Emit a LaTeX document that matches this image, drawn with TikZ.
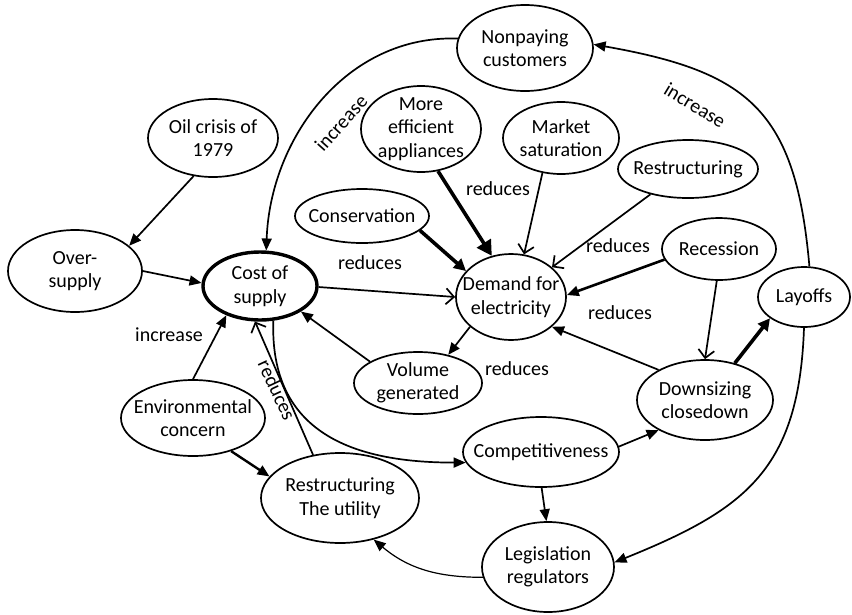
\documentclass[tikz,border=0pt]{standalone}
\usepackage{fontspec}
\setmainfont{Carlito}
\usetikzlibrary{arrows.meta,shapes.geometric}

\begin{document}
\begin{tikzpicture}[
  x=1pt, y=-1pt,
  every node/.style={font=\fontsize{20}{23.5}\selectfont},
  bub/.style={draw, ellipse, line width=1.7pt, align=center, inner xsep=-30pt, inner ysep=-20pt},
  lnk/.style={line width=1.7pt, -{Triangle[length=12pt,width=10pt]}},
  lnkopen/.style={line width=1.7pt, -{Straight Barb[length=8pt,width=16pt]}},
  lnkbold/.style={line width=3.6pt, -{Triangle[length=12pt,width=12pt]}},
  lbl/.style={inner sep=0pt}
]
  \useasboundingbox (0,0) rectangle (852,614);

  % --- Knoten ---
  \node[bub, minimum width=136pt, minimum height=86pt] (nonpay) at (525,48) {Nonpaying\\customers};
  \node[bub, minimum width=130pt, minimum height=78pt] (oil) at (213,138) {Oil crisis of\\1979};
  \node[bub, minimum width=120pt, minimum height=86pt] (eff) at (421,129) {More\\efficient\\appliances};
  \node[bub, minimum width=116pt, minimum height=72pt] (mkt) at (561,138) {Market\\saturation};
  \node[bub, minimum width=140pt, minimum height=58pt] (restr) at (688,169) {Restructuring};
  \node[bub, minimum width=134pt, minimum height=54pt] (cons) at (362,216) {Conservation};
  \node[bub, minimum width=134pt, minimum height=82pt] (over) at (75,271) {Over-\\supply};
  \node[bub, line width=3.4pt, minimum width=114pt, minimum height=68pt] (cost) at (260,286) {Cost of\\supply};
  \node[bub, minimum width=110pt, minimum height=86pt] (dem) at (511,297) {Demand for\\electricity};
  \node[bub, minimum width=114pt, minimum height=62pt] (rec) at (719,249) {Recession};
  \node[bub, minimum width=92pt, minimum height=60pt] (lay) at (804,297) {Layoffs};
  \node[bub, minimum width=128pt, minimum height=62pt] (vol) at (418,383) {Volume\\generated};
  \node[bub, minimum width=144pt, minimum height=76pt] (env) at (193,418) {Environmental\\concern};
  \node[bub, minimum width=158pt, minimum height=90pt] (rutil) at (340,498) {Restructuring\\The utility};
  \node[bub, minimum width=156pt, minimum height=70pt] (comp) at (541,452) {Competitiveness};
  \node[bub, minimum width=136pt, minimum height=80pt] (down) at (705,400) {Downsizing\\closedown};
  \node[bub, minimum width=132pt, minimum height=90pt] (leg) at (548,567) {Legislation\\regulators};

  % --- Verbindungen ---
  \draw[lnk] (oil.243) -- (over.25);
  \draw[lnk] (over.0) -- (cost.177);
  \draw[lnk] (nonpay.172) to[out=178, in=88] (cost.80);
  \draw[lnk] (lay.80) to[out=95, in=-10, looseness=1.3] (nonpay.3);
  \draw[lnkbold, -{Triangle[length=15pt,width=16pt]}] (eff.-68) -- (dem.115);
  \draw[lnkopen] (mkt.-118) -- (dem.73);
  \draw[lnkopen] (restr.-146) -- (dem.36);
  \draw[lnkbold] (cons.-14) -- (dem.150);
  \draw[lnkopen] (cost.-1) -- (dem.180);
  \draw[lnk, line width=2.6pt] (rec.-169) -- (dem.2);
  \draw[lnkopen] (rec.-94) -- (down.90);
  \draw[lnk] (down.147) -- (dem.-36);
  \draw[lnkbold] (down.51) -- (lay.-148);
  \draw[lnk] (dem.-144) -- (vol.43);
  \draw[lnk] (vol.156) -- (cost.-32);
  \draw[lnk] (env.90) -- (cost.-139);
  \draw[lnk, line width=2.4pt] (env.-41) -- (rutil.163);
  \draw[lnkopen] (rutil.122) -- (cost.-98);
  \draw[lnk] (cost.-69) to[out=-92, in=180, looseness=1.2] (comp.-172);
  \draw[lnk] (comp.4) -- (down.-147);
  \draw[lnk] (comp.-89) -- (leg.92);
  \draw[lnk] (lay.-90) to[out=-92, in=22, looseness=1.2] (leg.4);
  \draw[lnk, line width=1.2pt] (leg.-171) to[out=180, in=-40] (rutil.-51);

  % --- Beschriftungen ---
  \node[lbl, rotate=48] (inc1) at (341,123) {increase};
  \node[lbl, rotate=-31] (inc2) at (695,105) {increase};
  \node[lbl] (inc3) at (169,335) {increase};
  \node[lbl] (red1) at (498,189) {reduces};
  \node[lbl] (red2) at (370,263) {reduces};
  \node[lbl] (red3) at (618,246) {reduces};
  \node[lbl] (red4) at (620,313) {reduces};
  \node[lbl] (red5) at (517,369) {reduces};
  \node[lbl, rotate=-65] (red6) at (277,390) {reduces};
\end{tikzpicture}
\end{document}
